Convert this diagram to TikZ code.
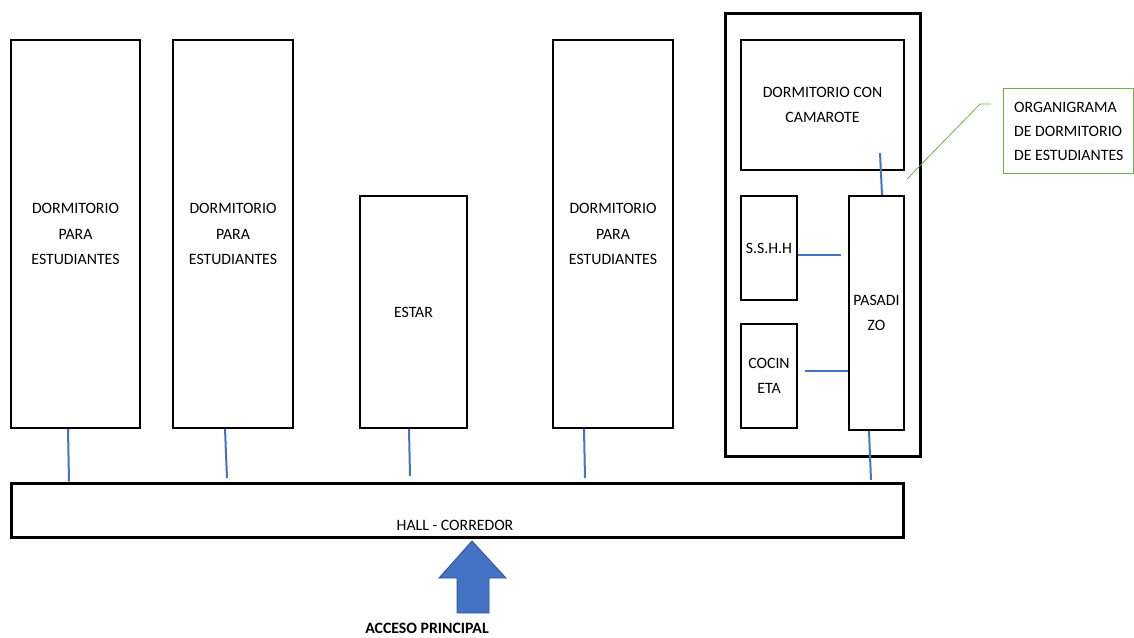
\documentclass[tikz,border=0pt]{standalone}
\usepackage{fontspec}
\setmainfont{Carlito}
\usetikzlibrary{calc}
\definecolor{lnk}{HTML}{4472C4}
\definecolor{arrfill}{HTML}{4472C4}
\definecolor{arrdraw}{HTML}{2F528F}
\definecolor{notegreen}{HTML}{70AD47}
\begin{document}
\begin{tikzpicture}[x=1pt,y=-1pt,
  roombox/.style={draw=black,line width=2.3pt,inner sep=0pt,align=center,
    font=\fontsize{15.8}{25.5}\selectfont},
  thickbox/.style={draw=black,line width=3pt,inner sep=0pt},
  link/.style={draw=lnk,line width=2pt},
  lbl/.style={font=\fontsize{15.8}{25.5}\selectfont,inner sep=0pt,align=center}]
\useasboundingbox (0,0) rectangle (1134,637);
% outer enclosure
\node[thickbox,minimum width=195pt,minimum height=443pt] (outer) at (822.5,234.5) {};
% rooms
\node[roombox,minimum width=129pt,minimum height=388pt] (d1) at (75.5,234) {DORMITORIO\\PARA\\ESTUDIANTES};
\node[roombox,minimum width=120pt,minimum height=388pt] (d2) at (233,234) {DORMITORIO\\PARA\\ESTUDIANTES};
\node[roombox,minimum width=107pt,minimum height=232pt] (estar) at (413.5,312) {ESTAR};
\node[roombox,minimum width=120pt,minimum height=388pt] (d4) at (613,234) {DORMITORIO\\PARA\\ESTUDIANTES};
\node[roombox,minimum width=163pt,minimum height=130pt] (cam) at (822.5,105) {DORMITORIO CON\\CAMAROTE};
\node[roombox,minimum width=56pt,minimum height=104pt] (sshh) at (769,248) {S.S.H.H};
\node[roombox,minimum width=56pt,minimum height=104pt] (coc) at (769,376) {COCIN\\ETA};
\node[roombox,minimum width=55pt,minimum height=234pt] (pas) at (876.5,313) {PASADI\\ZO};
% hall
\node[thickbox,minimum width=892pt,minimum height=54pt] (hall) at (457,510) {};
\node[lbl] (hallt) at (455,525) {HALL - CORREDOR};
% connectors
\draw[link] (68,0 |- d1.south) -- (69,0 |- hall.north);
\draw[link] (225,0 |- d2.south) -- (227,478);
\draw[link] (409,0 |- estar.south) -- (410,476);
\draw[link] (584,0 |- d4.south) -- (585,478);
\draw[link] (869,0 |- pas.south) -- (871,480);
\draw[link] (880,153) -- (882,0 |- pas.north);
\draw[link] (sshh.east |- 0,255) -- (841,255);
\draw[link] (805,371) -- (pas.west |- 0,371);
% note
\node[draw=notegreen,line width=0.8pt,minimum width=130pt,minimum height=85pt,inner sep=0pt] (note) at (1068,130.5) {};
\node[lbl,align=left,anchor=west,font=\fontsize{15.8}{24}\selectfont] (notet) at (1014,131) {ORGANIGRAMA\\DE DORMITORIO\\DE ESTUDIANTES};
\coordinate (callend) at (907,179);
\draw[notegreen,line width=0.8pt] (callend) -- (980,104) -- (991,104);
% access arrow
\draw[fill=arrfill,draw=arrdraw,line width=0.8pt] (472,541) -- (506,578) -- (489,578) -- (489,613) -- (457,613) -- (457,578) -- (439,578) -- cycle;
\node[font=\fontsize{15.8}{18}\selectfont\bfseries,inner sep=0pt] (acc) at (427,628) {ACCESO PRINCIPAL};
\end{tikzpicture}
\end{document}
